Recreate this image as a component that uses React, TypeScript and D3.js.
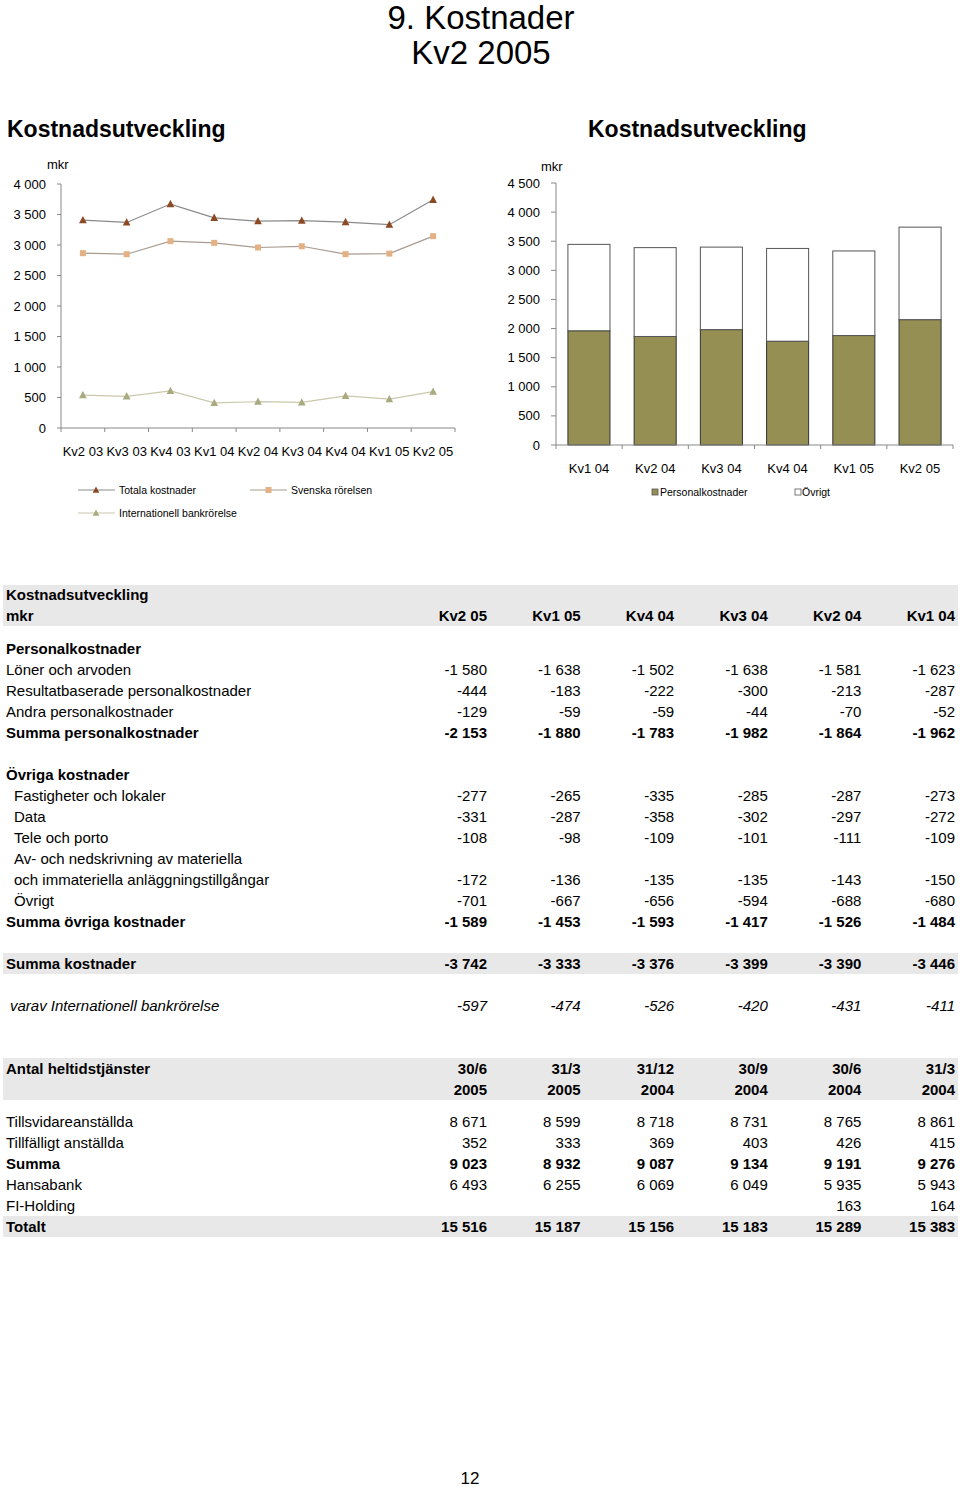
import React from "react";
import * as d3 from "d3";

// ---- Line chart data ----
const lineCategories = ["Kv2 03", "Kv3 03", "Kv4 03", "Kv1 04", "Kv2 04", "Kv3 04", "Kv4 04", "Kv1 05", "Kv2 05"];
const totalaKostnader = [3408, 3370, 3671, 3446, 3390, 3399, 3376, 3333, 3742];
const svenskaRorelsen = [2866, 2849, 3063, 3035, 2959, 2979, 2850, 2859, 3145];
const internationell = [540, 520, 608, 411, 431, 420, 526, 474, 597];
const lineTicks = [0, 500, 1000, 1500, 2000, 2500, 3000, 3500, 4000];

// ---- Bar chart data ----
const barCategories = ["Kv1 04", "Kv2 04", "Kv3 04", "Kv4 04", "Kv1 05", "Kv2 05"];
const personalkostnader = [1962, 1864, 1982, 1783, 1880, 2153];
const ovrigt = [1484, 1526, 1417, 1593, 1453, 1589];
const barTicks = [0, 500, 1000, 1500, 2000, 2500, 3000, 3500, 4000, 4500];

// ---- Table data ----
const tableColumns = ["Kv2 05", "Kv1 05", "Kv4 04", "Kv3 04", "Kv2 04", "Kv1 04"];
const lonerOchArvoden = ["-1 580", "-1 638", "-1 502", "-1 638", "-1 581", "-1 623"];
const resultatbaserade = ["-444", "-183", "-222", "-300", "-213", "-287"];
const andraPersonal = ["-129", "-59", "-59", "-44", "-70", "-52"];
const summaPersonal = ["-2 153", "-1 880", "-1 783", "-1 982", "-1 864", "-1 962"];
const fastigheter = ["-277", "-265", "-335", "-285", "-287", "-273"];
const dataKost = ["-331", "-287", "-358", "-302", "-297", "-272"];
const teleOchPorto = ["-108", "-98", "-109", "-101", "-111", "-109"];
const avskrivningar = ["-172", "-136", "-135", "-135", "-143", "-150"];
const ovrigtKost = ["-701", "-667", "-656", "-594", "-688", "-680"];
const summaOvriga = ["-1 589", "-1 453", "-1 593", "-1 417", "-1 526", "-1 484"];
const summaKostnader = ["-3 742", "-3 333", "-3 376", "-3 399", "-3 390", "-3 446"];
const varavInternationell = ["-597", "-474", "-526", "-420", "-431", "-411"];

const fteHeader1 = ["30/6", "31/3", "31/12", "30/9", "30/6", "31/3"];
const fteHeader2 = ["2005", "2005", "2004", "2004", "2004", "2004"];
const tillsvidare = ["8 671", "8 599", "8 718", "8 731", "8 765", "8 861"];
const tillfalligt = ["352", "333", "369", "403", "426", "415"];
const summaFte = ["9 023", "8 932", "9 087", "9 134", "9 191", "9 276"];
const hansabank = ["6 493", "6 255", "6 069", "6 049", "5 935", "5 943"];
const fiHolding = ["", "", "", "", "163", "164"];
const totalt = ["15 516", "15 187", "15 156", "15 183", "15 289", "15 383"];

const FONT = "'Liberation Sans', Arial, Helvetica, sans-serif";
const fmtTick = (v: number) => (v >= 1000 ? d3.format(",")(v).replace(/,/g, " ") : String(v));

type Row = {
  y: number;
  label: string;
  values?: string[];
  bold?: boolean;
  italic?: boolean;
  indent?: number;
};

const rows: Row[] = [
  { y: 594, label: "Kostnadsutveckling", bold: true },
  { y: 615, label: "mkr", values: tableColumns, bold: true },
  { y: 648, label: "Personalkostnader", bold: true },
  { y: 669, label: "Löner och arvoden", values: lonerOchArvoden },
  { y: 690, label: "Resultatbaserade personalkostnader", values: resultatbaserade },
  { y: 711, label: "Andra personalkostnader", values: andraPersonal },
  { y: 732, label: "Summa personalkostnader", values: summaPersonal, bold: true },
  { y: 774, label: "Övriga kostnader", bold: true },
  { y: 795, label: "Fastigheter och lokaler", values: fastigheter, indent: 8 },
  { y: 816, label: "Data", values: dataKost, indent: 8 },
  { y: 837, label: "Tele och porto", values: teleOchPorto, indent: 8 },
  { y: 858, label: "Av- och nedskrivning av materiella", indent: 8 },
  { y: 879, label: "och immateriella anläggningstillgångar", values: avskrivningar, indent: 8 },
  { y: 900, label: "Övrigt", values: ovrigtKost, indent: 8 },
  { y: 921, label: "Summa övriga kostnader", values: summaOvriga, bold: true },
  { y: 963, label: "Summa kostnader", values: summaKostnader, bold: true },
  { y: 1005, label: "varav Internationell bankrörelse", values: varavInternationell, italic: true, indent: 4 },
  { y: 1068, label: "Antal heltidstjänster", values: fteHeader1, bold: true },
  { y: 1089, label: "", values: fteHeader2, bold: true },
  { y: 1121, label: "Tillsvidareanställda", values: tillsvidare },
  { y: 1142, label: "Tillfälligt anställda", values: tillfalligt },
  { y: 1163, label: "Summa", values: summaFte, bold: true },
  { y: 1184, label: "Hansabank", values: hansabank },
  { y: 1205, label: "FI-Holding", values: fiHolding },
  { y: 1226, label: "Totalt", values: totalt, bold: true },
];

const bands = [
  { y0: 585, y1: 626 },
  { y0: 953, y1: 974 },
  { y0: 1058, y1: 1100 },
  { y0: 1216, y1: 1237 },
];

function triangle(cx: number, cy: number, s: number) {
  return `M${cx},${cy - s * 0.6} L${cx + s * 0.55},${cy + s * 0.45} L${cx - s * 0.55},${cy + s * 0.45} Z`;
}

function LineChart() {
  const x = d3.scaleBand<string>().domain(lineCategories).range([61, 455]);
  const y = d3.scaleLinear().domain([0, 4000]).range([428, 184]);
  const cx = (c: string) => (x(c) as number) + x.bandwidth() / 2;
  const line = d3
    .line<number>()
    .x((_, i) => cx(lineCategories[i]))
    .y((d) => y(d));
  const series = [
    { data: totalaKostnader, stroke: "#8a8a8a", marker: "tri", fill: "#8b4a24" },
    { data: svenskaRorelsen, stroke: "#a89c90", marker: "sq", fill: "#e3b183" },
    { data: internationell, stroke: "#c9c9ad", marker: "tri", fill: "#a9aa80" },
  ];
  const boundaries = [...lineCategories.map((c) => x(c) as number), 455];
  return (
    <g>
      <text x={47} y={169} fontSize={13} fontFamily={FONT}>mkr</text>
      <line x1={61} x2={61} y1={184} y2={428} stroke="#888" />
      <line x1={61} x2={455} y1={428} y2={428} stroke="#888" />
      {lineTicks.map((t) => (
        <g key={t}>
          <line x1={57} x2={61} y1={y(t)} y2={y(t)} stroke="#888" />
          <text x={46} y={y(t) + 4.5} textAnchor="end" fontSize={13} fontFamily={FONT}>
            {fmtTick(t)}
          </text>
        </g>
      ))}
      {boundaries.map((b, i) => (
        <line key={i} x1={b} x2={b} y1={428} y2={432} stroke="#888" />
      ))}
      {lineCategories.map((c) => (
        <text key={c} x={cx(c)} y={456} textAnchor="middle" fontSize={13} fontFamily={FONT}>
          {c}
        </text>
      ))}
      {series.map((s, si) => (
        <g key={si}>
          <path d={line(s.data) as string} fill="none" stroke={s.stroke} strokeWidth={1.2} />
          {s.data.map((v, i) =>
            s.marker === "tri" ? (
              <path key={i} d={triangle(cx(lineCategories[i]), y(v), 7)} fill={s.fill} />
            ) : (
              <rect key={i} x={cx(lineCategories[i]) - 3} y={y(v) - 3} width={6} height={6} fill={s.fill} />
            )
          )}
        </g>
      ))}
      <g fontSize={10.5} fontFamily={FONT}>
        <line x1={78} x2={115} y1={490} y2={490} stroke="#8a8a8a" />
        <path d={triangle(96, 490, 6)} fill="#8b4a24" />
        <text x={119} y={494}>Totala kostnader</text>
        <line x1={250} x2={287} y1={490} y2={490} stroke="#a89c90" />
        <rect x={265.5} y={487} width={6} height={6} fill="#e3b183" />
        <text x={291} y={494}>Svenska rörelsen</text>
        <line x1={78} x2={115} y1={513} y2={513} stroke="#c9c9ad" />
        <path d={triangle(96, 513, 6)} fill="#a9aa80" />
        <text x={119} y={517}>Internationell bankrörelse</text>
      </g>
    </g>
  );
}

function BarChart() {
  const x = d3.scaleBand<string>().domain(barCategories).range([556, 953]).paddingInner(0.365).paddingOuter(0.18);
  const xb = d3.scaleBand<string>().domain(barCategories).range([556, 953]);
  const y = d3.scaleLinear().domain([0, 4500]).range([445, 183]);
  const table = barCategories.map((c, i) => ({ cat: c, pers: personalkostnader[i], ovr: ovrigt[i] }));
  const stack = d3.stack<any>().keys(["pers", "ovr"])(table);
  const fills = ["#958f53", "#ffffff"];
  const boundaries = [...barCategories.map((c) => xb(c) as number), 953];
  return (
    <g>
      <text x={541} y={171} fontSize={13} fontFamily={FONT}>mkr</text>
      {stack.map((layer, li) => (
        <g key={li}>
          {layer.map((d, i) => (
            <rect
              key={i}
              x={x(barCategories[i]) as number}
              width={x.bandwidth()}
              y={y(d[1])}
              height={y(d[0]) - y(d[1])}
              fill={fills[li]}
              stroke={li === 0 ? "#333" : "#555"}
              strokeWidth={1}
            />
          ))}
        </g>
      ))}
      <line x1={556} x2={556} y1={183} y2={445} stroke="#888" />
      <line x1={556} x2={953} y1={445} y2={445} stroke="#888" />
      {barTicks.map((t) => (
        <g key={t}>
          <line x1={551} x2={556} y1={y(t)} y2={y(t)} stroke="#888" />
          <text x={540} y={y(t) + 4.5} textAnchor="end" fontSize={13} fontFamily={FONT}>
            {fmtTick(t)}
          </text>
        </g>
      ))}
      {boundaries.map((b, i) => (
        <line key={i} x1={b} x2={b} y1={445} y2={449} stroke="#888" />
      ))}
      {barCategories.map((c) => (
        <text key={c} x={(xb(c) as number) + xb.bandwidth() / 2} y={473} textAnchor="middle" fontSize={13} fontFamily={FONT}>
          {c}
        </text>
      ))}
      <g fontSize={10.5} fontFamily={FONT}>
        <rect x={652} y={489} width={6} height={6} fill="#958f53" stroke="#555" strokeWidth={0.8} />
        <text x={660} y={496}>Personalkostnader</text>
        <rect x={795} y={489} width={6} height={6} fill="#fff" stroke="#555" strokeWidth={0.8} />
        <text x={802} y={496}>Övrigt</text>
      </g>
    </g>
  );
}

function Table() {
  const col = d3.scaleLinear().domain([0, 5]).range([487, 955]);
  return (
    <g fontFamily={FONT} fontSize={15}>
      {bands.map((b, i) => (
        <rect key={i} x={3} y={b.y0} width={955} height={b.y1 - b.y0} fill="#e8e8e8" />
      ))}
      {rows.map((r, i) => (
        <g key={i} fontWeight={r.bold ? "bold" : "normal"} fontStyle={r.italic ? "italic" : "normal"}>
          <text x={6 + (r.indent || 0)} y={r.y + 5.5}>{r.label}</text>
          {(r.values || []).map((v, j) => (
            <text key={j} x={col(j)} y={r.y + 5.5} textAnchor="end">
              {v}
            </text>
          ))}
        </g>
      ))}
    </g>
  );
}

export default function App() {
  return (
    <svg width={960} height={1487} viewBox="0 0 960 1487" style={{ display: "block", position: "absolute", left: 0, top: 0, background: "#fff" }}>
      <rect x={0} y={0} width={960} height={1487} fill="#fff" />
      <text x={481} y={29} textAnchor="middle" fontSize={33} fontFamily={FONT}>9. Kostnader</text>
      <text x={481} y={64} textAnchor="middle" fontSize={33} fontFamily={FONT}>Kv2 2005</text>
      <text x={7} y={137} fontSize={23} fontWeight="bold" fontFamily={FONT}>Kostnadsutveckling</text>
      <text x={588} y={137} fontSize={23} fontWeight="bold" fontFamily={FONT}>Kostnadsutveckling</text>
      <LineChart />
      <BarChart />
      <Table />
      <text x={470} y={1484} textAnchor="middle" fontSize={17} fontFamily={FONT}>12</text>
    </svg>
  );
}
